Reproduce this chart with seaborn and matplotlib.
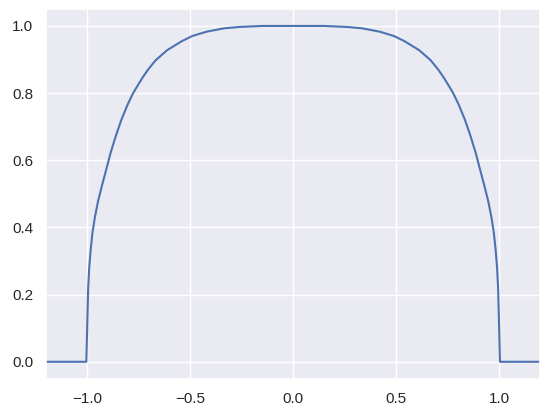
import matplotlib
matplotlib.use("Agg")
import matplotlib.pyplot as plt
import seaborn as sns
import pandas as pd

# values (right half; the curve is symmetric)
x_right = [0.0, 0.15, 0.26, 0.335, 0.42, 0.49, 0.54, 0.612, 0.668, 0.705, 0.731,
           0.765, 0.78, 0.805, 0.835, 0.862, 0.888, 0.908, 0.928, 0.948, 0.963,
           0.975, 0.984, 0.991, 0.996, 1.005, 1.2]
y_right = [1.0, 1.0, 0.997, 0.993, 0.983, 0.970, 0.955, 0.928, 0.898, 0.870, 0.847,
           0.813, 0.797, 0.765, 0.720, 0.672, 0.620, 0.573, 0.527, 0.478, 0.432,
           0.385, 0.333, 0.280, 0.220, 0.0, 0.0]

x_vals = [-v for v in x_right[:0:-1]] + x_right
y_vals = y_right[:0:-1] + y_right

sns.set_theme()
plt.rcParams["font.family"] = ["Liberation Sans", "DejaVu Sans"]
df = pd.DataFrame({"x": x_vals, "y": y_vals})

fig = plt.figure(figsize=(5.5, 4.16), dpi=100)
ax = fig.add_axes([0.084, 0.090, 0.898, 0.888])
sns.lineplot(data=df, x="x", y="y", ax=ax, sort=False, estimator=None)
ax.set_xlim(-1.2, 1.2)
ax.set_ylim(-0.05, 1.05)
ax.set_xlabel("")
ax.set_ylabel("")
ax.set_xticks([-1.0, -0.5, 0.0, 0.5, 1.0])
ax.set_yticks([0.0, 0.2, 0.4, 0.6, 0.8, 1.0])
fig.savefig("out.png", dpi=100)
